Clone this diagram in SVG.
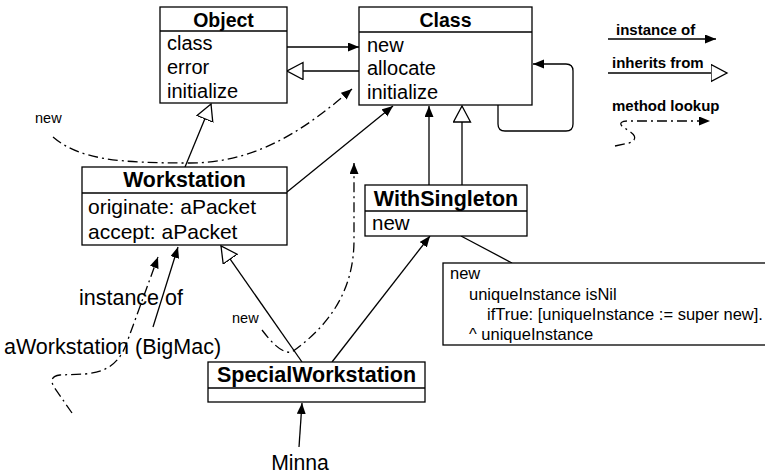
<svg xmlns="http://www.w3.org/2000/svg" width="765" height="473" viewBox="0 0 765 473">
<style>
.box{fill:#fff;stroke:#000;stroke-width:1.3}
.sep{stroke:#000;stroke-width:1.3}
.hdr{font-family:"Liberation Sans",Arial,sans-serif;font-weight:bold;text-anchor:middle;fill:#000}
.att{font-family:"Liberation Sans",Arial,sans-serif;fill:#000}
.leg{font-family:"Liberation Sans",Arial,sans-serif;font-weight:bold;font-size:15px;fill:#000}
.ln{fill:none;stroke:#000;stroke-width:1.3}
.dd{fill:none;stroke:#000;stroke-width:1.3;stroke-dasharray:10,4,2,4}
.inst{marker-end:url(#arrow)}
.inh{marker-end:url(#tri)}
</style>
<defs>
<marker id="arrow" markerUnits="userSpaceOnUse" markerWidth="12" markerHeight="10" refX="11" refY="4.5" orient="auto" viewBox="0 0 12 10">
<path d="M0,0 L11,4.5 L0,9 z" fill="#000"/>
</marker>
<marker id="tri" markerUnits="userSpaceOnUse" markerWidth="18" markerHeight="19" refX="16.5" refY="9" orient="auto" viewBox="0 0 18 19">
<path d="M0.5,0.5 L16.5,9 L0.5,17.5 z" fill="#fff" stroke="#000" stroke-width="1.3"/>
</marker>
</defs>

<g id="connectors">
<line class="ln inst" x1="287" y1="47" x2="359" y2="47"/>
<line class="ln inh" x1="359" y1="71" x2="287" y2="71"/>
<line class="ln inh" x1="185" y1="167" x2="211" y2="104"/>
<line class="ln inst" x1="287" y1="192" x2="393" y2="106"/>
<line class="ln inst" x1="429" y1="185" x2="429" y2="106"/>
<line class="ln inh" x1="462" y1="185" x2="462" y2="106"/>
<path class="ln inst" d="M498,105 L498,124 Q498,131 505,131 L566,131 Q573,131 573,124 L573,71 Q573,64 566,64 L533,64"/>
<line class="ln inst" x1="332" y1="362" x2="430" y2="236"/>
<line class="ln inh" x1="302" y1="362" x2="221" y2="246"/>
<line class="ln inst" x1="299" y1="447" x2="302" y2="403"/>
<line class="ln inst" x1="153" y1="327" x2="178" y2="247"/>
<line class="ln" x1="461" y1="236" x2="512" y2="263"/>
<path class="dd inst" d="M53,137 C80,160 120,163 190,163 C260,163 310,125 352,89"/>
<path class="dd inst" d="M72,413 L54,387 C50,380 52,376 60,375 L85,374 C105,372 118,365 126,345 L158,257"/>
<path class="dd inst" d="M262,330 C272,343 282,354 292,352 C330,325 354,290 354,240 L354,163"/>
</g>

<g id="Object">
<rect class="box" x="160" y="7" width="127" height="96"/>
<line class="sep" x1="160" y1="31" x2="287" y2="31"/>
<text class="hdr" x="223.5" y="27" font-size="19.5">Object</text>
<text class="att" x="167" y="50" font-size="20">class</text>
<text class="att" x="167" y="74" font-size="20">error</text>
<text class="att" x="167" y="98" font-size="20">initialize</text>
</g>

<g id="Class">
<rect class="box" x="359" y="7" width="173" height="98"/>
<line class="sep" x1="359" y1="32" x2="532" y2="32"/>
<text class="hdr" x="445.5" y="27" font-size="19.5">Class</text>
<text class="att" x="367" y="52" font-size="20">new</text>
<text class="att" x="367" y="75" font-size="20">allocate</text>
<text class="att" x="367" y="99" font-size="20">initialize</text>
</g>

<g id="Workstation">
<rect class="box" x="82" y="167" width="205" height="78"/>
<line class="sep" x1="82" y1="193" x2="287" y2="193"/>
<text class="hdr" x="184.5" y="187" font-size="21.3">Workstation</text>
<text class="att" x="88" y="214" font-size="21">originate: aPacket</text>
<text class="att" x="88" y="239" font-size="21">accept: aPacket</text>
</g>

<g id="WithSingleton">
<rect class="box" x="365" y="185" width="162" height="51"/>
<line class="sep" x1="365" y1="211" x2="527" y2="211"/>
<text class="hdr" x="446" y="206" font-size="21.5">WithSingleton</text>
<text class="att" x="372" y="230" font-size="20.5">new</text>
</g>

<g id="SpecialWorkstation">
<rect class="box" x="208" y="362" width="217" height="40"/>
<line class="sep" x1="208" y1="388" x2="425" y2="388"/>
<text class="hdr" x="316.5" y="382" font-size="21.5">SpecialWorkstation</text>
</g>

<g id="note">
<rect class="box" x="443" y="263" width="330" height="82"/>
<text class="att" x="450" y="279" font-size="16.5">new</text>
<text class="att" x="469" y="300" font-size="16.5">uniqueInstance isNil</text>
<text class="att" x="487" y="320" font-size="16.5">ifTrue: [uniqueInstance := super new].</text>
<text class="att" x="469" y="340" font-size="16.5">^ uniqueInstance</text>
</g>

<g id="labels">
<text class="att" x="35" y="123" font-size="14.5">new</text>
<text class="att" x="232" y="323" font-size="14.5">new</text>
<text class="att" x="79" y="305" font-size="21.5">instance of</text>
<text class="att" x="4" y="354" font-size="21.5">aWorkstation (BigMac)</text>
<text class="att" x="300" y="470" font-size="21.2" text-anchor="middle">Minna</text>
</g>

<g id="legend">
<text class="leg" x="616" y="35">instance of</text>
<line class="ln inst" x1="608" y1="39" x2="716" y2="39"/>
<text class="leg" x="612" y="68">inherits from</text>
<line class="ln inh" x1="608" y1="73" x2="727" y2="73"/>
<text class="leg" x="612" y="111">method lookup</text>
<path class="dd inst" d="M615,146 L629,143 C637,141 636,135 629,131 L622,126 C619,123 622,121 627,121 L710,121"/>
</g>
</svg>
